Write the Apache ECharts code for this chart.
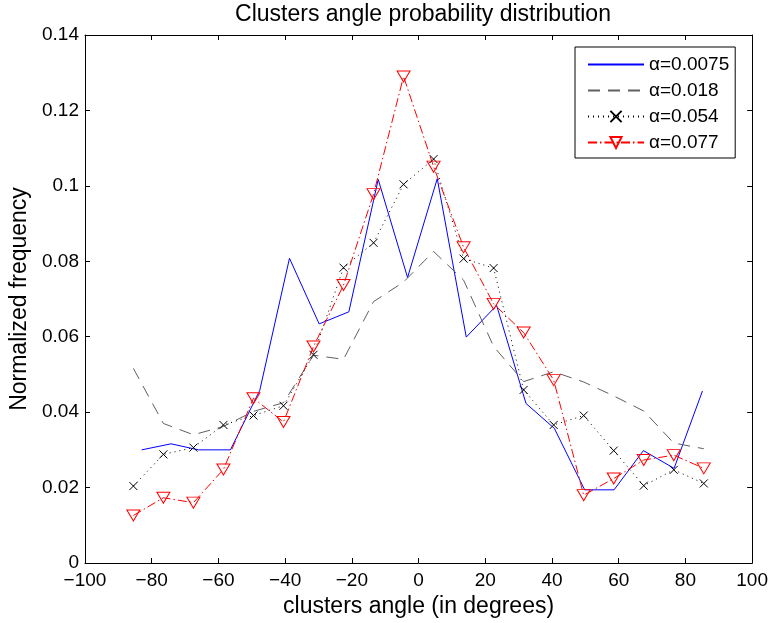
<!DOCTYPE html>
<html>
<head>
<meta charset="utf-8">
<script src="https://cdn.jsdelivr.net/npm/echarts@6/dist/echarts.min.js"></script>
<style>
  html, body { margin: 0; padding: 0; background: #fff; }
  #chart { width: 771px; height: 623px; }
</style>
</head>
<body>
<div id="chart"></div>
<script>
// Histogram bin centres (degrees) shared by the α=0.018, 0.054 and 0.077 curves
const binCenters = [-85.5, -76.5, -67.5, -58.5, -49.5, -40.5, -31.5, -22.5, -13.5, -4.5,
                    4.5, 13.5, 22.5, 31.5, 40.5, 49.5, 58.5, 67.5, 76.5, 85.5];
// The α=0.0075 curve uses its own, slightly shifted bin centres
const binCentersA0075 = [-83.0, -74.2, -66.0, -56.4, -47.6, -38.7, -29.8, -20.9, -12.1, -3.3,
                         5.6, 14.3, 23.4, 32.2, 40.7, 49.8, 58.6, 67.4, 76.6, 85.1];

// Normalized frequencies per α
const freqA0075 = [0.0300, 0.0316, 0.0300, 0.0300, 0.0458, 0.0808, 0.0634, 0.0666, 0.1017, 0.0757,
                   0.1019, 0.0599, 0.0683, 0.0423, 0.0357, 0.0194, 0.0194, 0.0298, 0.0251, 0.0456];
const freqA018  = [0.0516, 0.0370, 0.0340, 0.0362, 0.0402, 0.0425, 0.0551, 0.0540, 0.0693, 0.0745,
                   0.0826, 0.0750, 0.0574, 0.0481, 0.0507, 0.0480, 0.0443, 0.0403, 0.0318, 0.0303];
const freqA054  = [0.0204, 0.0288, 0.0306, 0.0366, 0.0391, 0.0417, 0.0552, 0.0783, 0.0849, 0.1004,
                   0.1071, 0.0807, 0.0782, 0.0459, 0.0366, 0.0391, 0.0298, 0.0205, 0.0247, 0.0211];
const freqA077  = [0.0126, 0.0173, 0.0160, 0.0248, 0.0437, 0.0374, 0.0574, 0.0737, 0.0978, 0.1290,
                   0.1051, 0.0837, 0.0687, 0.0611, 0.0485, 0.0180, 0.0224, 0.0273, 0.0286, 0.0251];

const seriesNames = ['α=0.0075', 'α=0.018', 'α=0.054', 'α=0.077'];

const FONT = '"Liberation Sans", Arial, Helvetica, sans-serif';
const pairs = (xs, ys) => xs.map((x, i) => [x, ys[i]]);
const fmtX = v => (v < 0 ? '\u2212' + (-v) : String(v));
const fmtY = v => String(+v.toFixed(2));

const tickStyle = { show: true, inside: true, length: 5, lineStyle: { color: '#000', width: 1 } };
const lineAxis = { show: true, onZero: false, lineStyle: { color: '#000', width: 1 } };
// plain lines carry an invisible marker so their legend entry shows only the stroke
const hiddenMarker = { color: 'rgba(0,0,0,0)', borderColor: 'rgba(0,0,0,0)', borderWidth: 0 };

const chart = echarts.init(document.getElementById('chart'), null, { renderer: 'canvas' });
chart.setOption({
  animation: false,
  backgroundColor: '#fff',
  textStyle: { fontFamily: FONT, color: '#000' },
  title: {
    text: 'Clusters angle probability distribution',
    left: 418, top: -2, textAlign: 'center',
    textStyle: { fontFamily: FONT, fontSize: 23, fontWeight: 'normal', color: '#000' }
  },
  grid: { left: 83, right: 18, top: 35, bottom: 60, containLabel: false },
  legend: {
    left: 575, top: 47,
    orient: 'vertical',
    itemWidth: 56, itemHeight: 14, itemGap: 7,
    padding: [8, 6, 6, 12],
    backgroundColor: '#fff',
    borderColor: '#000', borderWidth: 1, borderRadius: 0,
    textStyle: { fontFamily: FONT, fontSize: 19, color: '#000', lineHeight: 19 },
    data: seriesNames
  },
  xAxis: [
    {
      type: 'value', position: 'bottom', min: -100, max: 100, interval: 20,
      axisLine: lineAxis, axisTick: tickStyle, splitLine: { show: false },
      axisLabel: { fontFamily: FONT, fontSize: 19, color: '#000', margin: 8, formatter: fmtX },
      name: 'clusters angle (in degrees)', nameLocation: 'middle', nameGap: 31,
      nameTextStyle: { fontFamily: FONT, fontSize: 23, color: '#000' }
    },
    {
      type: 'value', position: 'top', min: -100, max: 100, interval: 20,
      axisLine: lineAxis, axisTick: tickStyle, splitLine: { show: false },
      axisLabel: { show: false }
    }
  ],
  yAxis: [
    {
      type: 'value', position: 'left', min: 0, max: 0.14, interval: 0.02,
      axisLine: lineAxis, axisTick: tickStyle, splitLine: { show: false },
      axisLabel: { fontFamily: FONT, fontSize: 19, color: '#000', margin: 6, formatter: fmtY },
      name: 'Normalized frequency', nameLocation: 'middle', nameGap: 54, nameRotate: 90,
      nameTextStyle: { fontFamily: FONT, fontSize: 23, color: '#000' }
    },
    {
      type: 'value', position: 'right', min: 0, max: 0.14, interval: 0.02,
      axisLine: lineAxis, axisTick: tickStyle, splitLine: { show: false },
      axisLabel: { show: false }
    }
  ],
  series: [
    {
      name: seriesNames[0], type: 'line', xAxisIndex: 0, yAxisIndex: 0,
      data: pairs(binCentersA0075, freqA0075),
      symbol: 'circle', showSymbol: false,
      lineStyle: { color: '#0000ff', width: 1, type: 'solid' },
      itemStyle: hiddenMarker
    },
    {
      name: seriesNames[1], type: 'line', xAxisIndex: 0, yAxisIndex: 0,
      data: pairs(binCenters, freqA018),
      symbol: 'circle', showSymbol: false,
      lineStyle: { color: '#606060', width: 1, type: [12, 8] },
      itemStyle: hiddenMarker
    },
    {
      name: seriesNames[2], type: 'line', xAxisIndex: 0, yAxisIndex: 0,
      data: pairs(binCenters, freqA054),
      symbol: 'path://M0,0L10,10M10,0L0,10', symbolSize: 8,
      lineStyle: { color: '#000', width: 1, type: [1, 4] },
      itemStyle: { color: '#000', borderColor: '#000', borderWidth: 1 }
    },
    {
      name: seriesNames[3], type: 'line', xAxisIndex: 0, yAxisIndex: 0,
      data: pairs(binCenters, freqA077),
      symbol: 'path://M0,0L10,0L5,9Z', symbolSize: [13, 11],
      lineStyle: { color: '#ff0000', width: 1, type: [9, 3, 1.5, 3] },
      itemStyle: { color: 'rgba(255,255,255,0)', borderColor: '#ff0000', borderWidth: 1 }
    }
  ]
});
</script>
</body>
</html>
